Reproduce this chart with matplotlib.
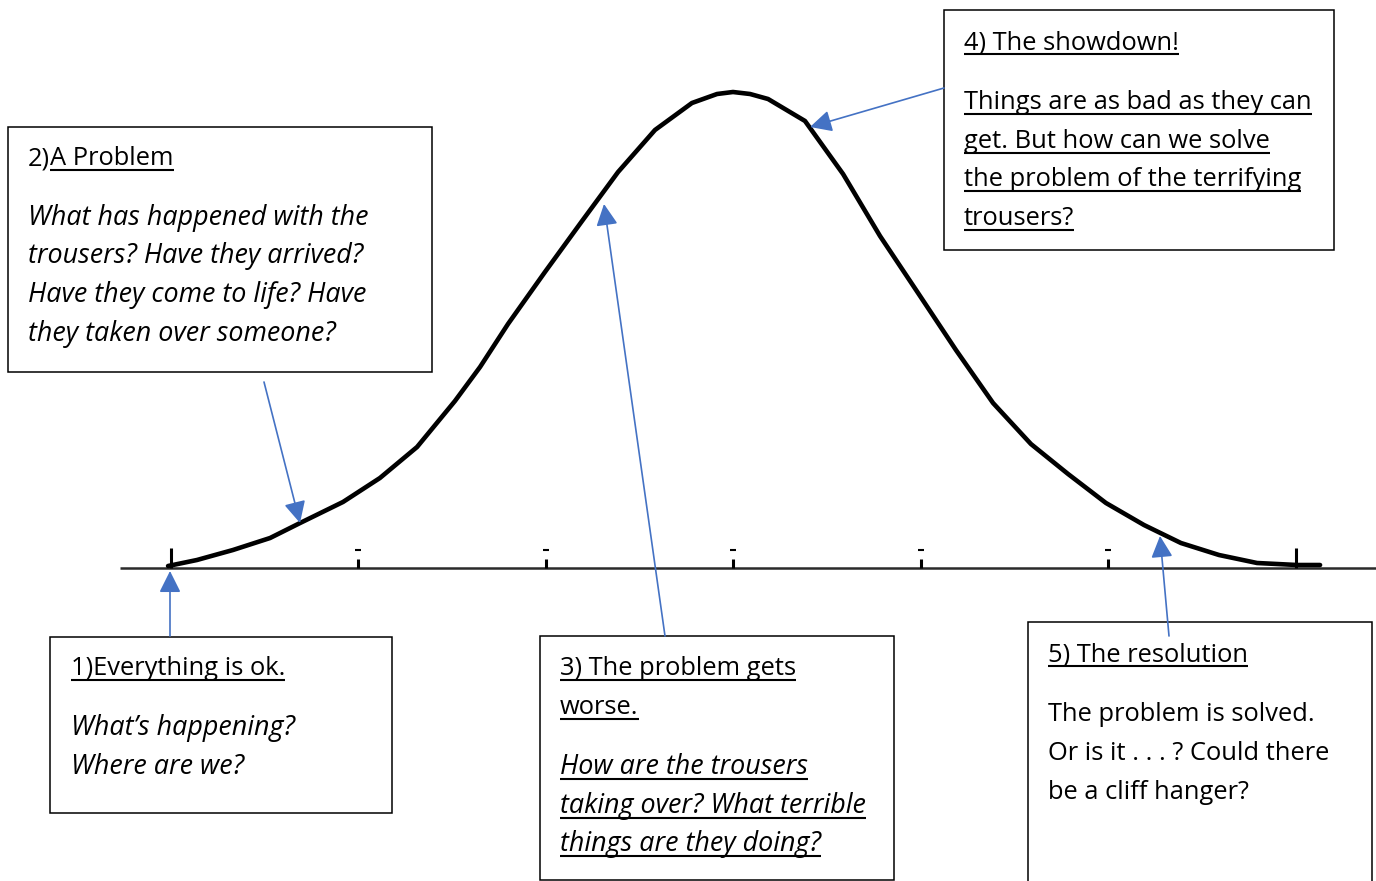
import matplotlib
matplotlib.use("Agg")
import matplotlib.pyplot as plt
from matplotlib.patches import Rectangle

# curve: x in tick units (ticks at -3..3), height in % of the peak
curve_x = [-3.013, -2.859, -2.667, -2.469, -2.309, -2.080, -1.883, -1.685, -1.483,
           -1.349, -1.200, -1.003, -0.805, -0.613, -0.416, -0.219, -0.085, 0.0,
           0.091, 0.187, 0.384, 0.587, 0.784, 0.987, 1.189, 1.387, 1.589, 1.787,
           1.989, 2.192, 2.389, 2.592, 2.795, 3.008, 3.131]
curve_h = [0.42, 1.68, 3.78, 6.30, 9.45, 13.87, 18.91, 25.42, 35.08,
           42.23, 51.26, 62.18, 72.90, 83.19, 92.02, 97.69, 99.58, 100.0,
           99.58, 98.53, 93.91, 82.77, 69.75, 57.77, 45.80, 34.66, 26.05, 19.75,
           13.66, 9.03, 5.25, 2.73, 1.05, 0.63, 0.63]
big_ticks = [-3, 3]
small_ticks = [-2, -1, 0, 1, 2]

# text boxes: (left, top, right, bottom) in pixels
boxes = [
    (8, 127, 432, 372),
    (944, 10, 1334, 250),
    (50, 637, 392, 813),
    (540, 636, 894, 880),
    (1028, 622, 1372, 895),
]
# each line: x, baseline, list of (text, underline, italic)
lines = [
    (28, 165, [("2)", False, False), ("A Problem", True, False)]),
    (28, 225, [("What has happened with the", False, True)]),
    (28, 263, [("trousers? Have they arrived?", False, True)]),
    (28, 302, [("Have they come to life? Have", False, True)]),
    (28, 341, [("they taken over someone?", False, True)]),
    (964, 49, [("4) The showdown!", True, False)]),
    (964, 109, [("Things are as bad as they can", True, False)]),
    (964, 148, [("get. But how can we solve", True, False)]),
    (964, 186, [("the problem of the terrifying", True, False)]),
    (964, 225, [("trousers?", True, False)]),
    (71, 675, [("1)Everything is ok.", True, False)]),
    (71, 735, [("What\u2019s happening?", False, True)]),
    (71, 774, [("Where are we?", False, True)]),
    (560, 675, [("3) The problem gets", True, False)]),
    (560, 714, [("worse.", True, False)]),
    (560, 774, [("How are the trousers", True, True)]),
    (560, 813, [("taking over? What terrible", True, True)]),
    (560, 851, [("things are they doing?", True, True)]),
    (1048, 661, [("5) The resolution", True, False)]),
    (1048, 721, [("The problem is solved.", False, False)]),
    (1048, 760, [("Or is it . . . ? Could there", False, False)]),
    (1048, 799, [("be a cliff hanger?", False, False)]),
]
# arrows: tail -> head in pixels
arrows = [
    ((170, 636), (170, 571)),
    ((264, 382), (300, 523)),
    ((665, 636), (604, 204)),
    ((944, 88), (810, 127)),
    ((1169, 636), (1160, 536)),
]

W, H = 1376, 881
fig = plt.figure(figsize=(W / 100, H / 100), dpi=100)
fig.patch.set_facecolor("white")

# curve axes
ax = fig.add_axes([0, 0, 1, 1])
ax.set_xlim((0 - 733) / 187.5, (W - 733) / 187.5)
ax.set_ylim(-(H - 568) / 4.76, 568 / 4.76)
ax.axis("off")
ax.plot([(120 - 733) / 187.5, (W - 733) / 187.5], [0, 0], color="#2a2a2a", lw=1.8,
        solid_capstyle="butt")
ax.plot(curve_x, curve_h, color="black", lw=3.3, solid_joinstyle="round",
        solid_capstyle="round")
ax.vlines(big_ticks, 0, 4.2, color="black", lw=2.2)
ax.vlines(small_ticks, 0, 1.8, color="black", lw=2.2)
ax.plot(small_ticks, [3.8] * len(small_ticks), ls="none", marker="_", ms=4,
        mew=1.5, color="black")

# overlay in pixel coordinates
ov = fig.add_axes([0, 0, 1, 1])
ov.set_xlim(0, W)
ov.set_ylim(H, 0)
ov.axis("off")
ov.patch.set_alpha(0)

for (l, t, r, b) in boxes:
    ov.add_patch(Rectangle((l, t), r - l, b - t, fill=True, facecolor="white",
                           edgecolor="black", lw=1.1, zorder=2))

for tail, head in arrows:
    ov.annotate("", xy=head, xytext=tail,
                arrowprops=dict(arrowstyle="-|>,head_length=0.6,head_width=0.3",
                                color="#4472C4", lw=1.2, mutation_scale=22,
                                shrinkA=0, shrinkB=0), zorder=3)

fig.canvas.draw()
renderer = fig.canvas.get_renderer()
inv = ov.transData.inverted()
for x, base, parts in lines:
    cx = x
    for s, under, italic in parts:
        t = ov.text(cx, base, s, fontsize=19.4 if italic else 18.4,
                    family="Open Sans", style="italic" if italic else "normal",
                    ha="left", va="baseline", color="black", zorder=4)
        bb = t.get_window_extent(renderer)
        x0 = inv.transform((bb.x0, 0))[0]
        x1 = inv.transform((bb.x1, 0))[0]
        if under:
            ov.plot([x0, x1], [base + 4.5, base + 4.5], color="black", lw=1.5,
                    zorder=4, solid_capstyle="butt")
        cx = x1

fig.savefig("out.png", dpi=100)
